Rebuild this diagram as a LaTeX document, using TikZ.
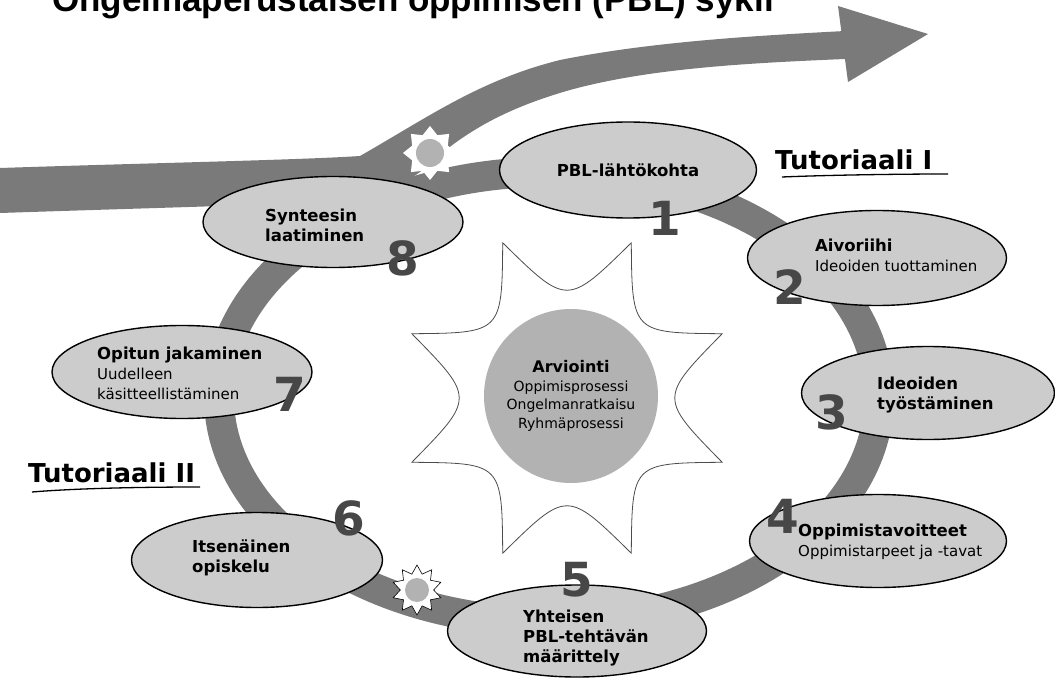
\documentclass[tikz,border=0pt]{standalone}
\usepackage{fontspec}
\setmainfont{DejaVu Sans}
\newfontfamily\titlefont{Liberation Sans}
\usepackage{tikz}
\usetikzlibrary{positioning,shapes.geometric,arrows.meta}
\newcommand{\subtxt}[1]{{\fontsize{15}{20}\selectfont\mdseries #1}}

\begin{document}
\begin{tikzpicture}[x=1pt, y=-1pt,
	bubble/.style={draw, line width=1.4pt, ellipse, fill=black!20, inner sep=0pt},
	lbl/.style={inner sep=0pt, align=left, font=\fontsize{16.5}{20}\selectfont\bfseries},
	num/.style={inner sep=0pt, text=black!72, font=\fontsize{47}{47}\selectfont\bfseries},
	band/.style={black!52},
	tut/.style={inner sep=0pt, anchor=base west, font=\fontsize{26}{26}\selectfont\bfseries}]
	\useasboundingbox (0,0) rectangle (1055,679);
	\clip (0,0) rectangle (1055,679);
	%title, cut at the top
	\node(title)[anchor=base west, inner sep=0pt, font=\titlefont\fontsize{35}{35}\selectfont\bfseries] at (52,12) {Ongelmaperustaisen oppimisen (PBL) sykli};
	%ring and big arrow
	\draw[band, line width=30pt] (549,397) ellipse [x radius=330, y radius=225];
	\fill[band] (0,168) .. controls (150,163) and (300,160) .. (360,156) .. controls (430,116) and (480,80) .. (560,60) .. controls (650,42) and (750,36) .. (845,31) -- (845,59) .. controls (750,63) and (650,68) .. (570,90) .. controls (500,110) and (460,135) .. (420,172) -- (380,200) .. controls (300,204) and (150,208) .. (0,213) -- cycle;
	\fill[band] (838,6) -- (928,34) -- (848,82) -- cycle;
	%sun in the middle
	\coordinate (sun) at (567,398);
	\draw[black!70, line width=.8pt, fill=white, shift={(sun)}] (22.5:168) \foreach \a in {67.5,112.5,...,382.5} { .. controls (\a-22.5:92) .. (\a:168)} -- cycle;
	\node(eval)[circle, fill=black!30, minimum size=174pt, inner sep=0pt, align=center, font=\fontsize{14}{18.5}\selectfont] at (571,396) {{\fontsize{16}{18.5}\selectfont\bfseries Arviointi}\\Oppimisprosessi\\Ongelmanratkaisu\\Ryhmäprosessi};
	%small stars
	\node(s1)[star, star points=8, star point ratio=1.4, minimum size=54pt, fill=white, inner sep=0pt] at (430,153) {};
	\node(s1c)[circle, fill=black!30, minimum size=28pt, inner sep=0pt] at (s1) {};
	\node(s2)[star, star points=10, star point ratio=1.5, minimum size=50pt, draw, line width=.6pt, fill=white, inner sep=0pt] at (417,590) {};
	\node(s2c)[circle, fill=black!30, minimum size=24pt, inner sep=0pt] at (s2) {};
	%the eight steps
	\node(e1)[bubble, lbl, minimum width=257pt, minimum height=96pt] at (628,170) {PBL-lähtökohta};
	\node(e2)[bubble, minimum width=259pt, minimum height=95pt] at (877,258) {};
	\node(t2)[lbl, anchor=west] at (815,255) {Aivoriihi\\\subtxt{Ideoiden tuottaminen}};
	\node(e3)[bubble, minimum width=253pt, minimum height=93pt] at (928,393) {};
	\node(t3)[lbl, anchor=west] at (877,395) {Ideoiden\\työstäminen};
	\node(e4)[bubble, minimum width=257pt, minimum height=93pt] at (878,541) {};
	\node(t4)[lbl, anchor=west] at (798,542) {Oppimistavoitteet\\\subtxt{Oppimistarpeet ja -tavat}};
	\node(e5)[bubble, minimum width=259pt, minimum height=92pt] at (577,631) {};
	\node(t5)[lbl, anchor=west] at (523,638) {Yhteisen\\PBL-tehtävän\\määrittely};
	\node(e6)[bubble, minimum width=251pt, minimum height=95pt] at (257,560) {};
	\node(t6)[lbl, anchor=west] at (192,558) {Itsenäinen\\opiskelu};
	\node(e7)[bubble, minimum width=260pt, minimum height=93pt] at (182,372) {};
	\node(t7)[lbl, anchor=west] at (97,373) {Opitun jakaminen\\\subtxt{Uudelleen}\\\subtxt{käsitteellistäminen}};
	\node(e8)[bubble, minimum width=260pt, minimum height=91pt] at (333,222) {};
	\node(t8)[lbl, anchor=west] at (265,225) {Synteesin\\laatiminen};
	%numbers
	\node(n1)[num] at (665,218) {1};
	\node(n2)[num] at (790,287) {2};
	\node(n3)[num] at (832,412) {3};
	\node(n4)[num] at (783,516) {4};
	\node(n5)[num] at (577,580) {5};
	\node(n6)[num] at (349,518) {6};
	\node(n7)[num] at (290,394) {7};
	\node(n8)[num] at (403,258) {8};
	%tutoriaalit
	\node(tut1)[tut] at (775,170) {Tutoriaali I};
	\draw[line width=1.3pt] (782,177) .. controls (830,175) and (900,174) .. (948,174);
	\node(tut2)[tut] at (28,482) {Tutoriaali II};
	\draw[line width=1.3pt] (32,492) .. controls (80,488) and (150,487) .. (200,487);
\end{tikzpicture}
\end{document}
